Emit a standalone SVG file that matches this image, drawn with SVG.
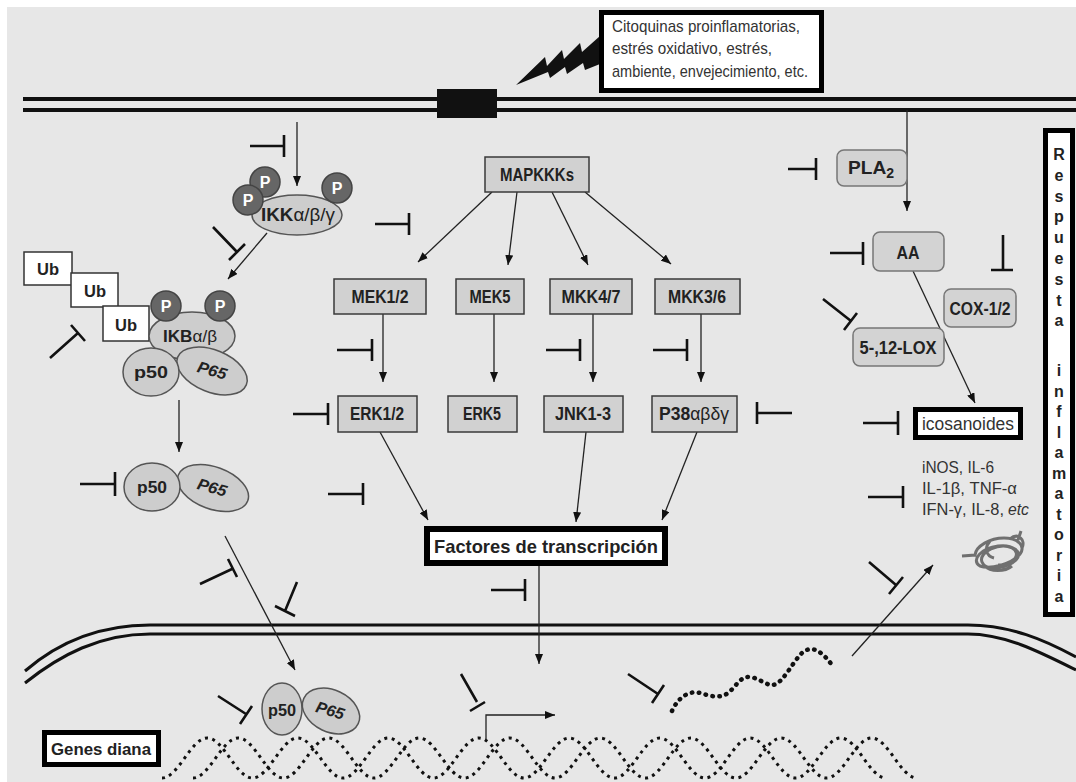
<svg xmlns="http://www.w3.org/2000/svg" width="1076" height="782" viewBox="0 0 1076 782">
<style>
  .bg{fill:#e7e7e7}
  .box{fill:#d1d1d1;stroke:#3a3a3a;stroke-width:1.5}
  .rbox{fill:#d3d3d3;stroke:#777;stroke-width:1.5}
  .thick{fill:#fff;stroke:#000}
  .ub{fill:#fff;stroke:#333;stroke-width:1.5}
  .prot{fill:#cdcdcd;stroke:#555;stroke-width:1.5}
  .phos{fill:#666;stroke:#444;stroke-width:1.5}
  .lbl{font-family:"Liberation Sans",Arial,sans-serif;font-weight:bold;fill:#222;text-anchor:middle}
  .reg{font-family:"Liberation Sans",Arial,sans-serif;fill:#333}
  .pt{font-family:"Liberation Sans",Arial,sans-serif;font-weight:bold;fill:#fff;font-size:16px;text-anchor:middle}
  .gr{font-weight:normal}
  .arr{fill:none;stroke:#222;stroke-width:1.3;marker-end:url(#ah)}
  .inh{fill:none;stroke:#111;stroke-width:2.6}
  .mem{fill:none;stroke:#111;stroke-width:4}
  .nuc{fill:none;stroke:#111;stroke-width:3}
  .dna{fill:none;stroke:#111;stroke-width:3;stroke-dasharray:3 4.5}
  .rna{fill:none;stroke:#111;stroke-width:4.5;stroke-linecap:round;stroke-dasharray:0.5 6.5}
  .resp{font-family:"Liberation Sans",Arial,sans-serif;font-weight:bold;font-size:16px;fill:#222;text-anchor:middle}
</style>
<defs>
  <marker id="ah" viewBox="0 0 10 8" refX="10" refY="4" markerWidth="10" markerHeight="8" markerUnits="userSpaceOnUse" orient="auto">
    <path d="M0,0 L10,4 L0,8 z" fill="#111"/>
  </marker>
</defs>

<rect width="1076" height="782" fill="#fff"/>
<rect class="bg" x="7" y="7" width="1069" height="775"/>

<!-- plasma membrane with receptor -->
<g id="membrane">
  <line class="mem" x1="23" y1="99" x2="1076" y2="99"/>
  <line class="mem" x1="23" y1="110" x2="1076" y2="110"/>
  <rect x="437" y="89" width="60" height="29" fill="#111"/>
</g>

<!-- nuclear envelope -->
<g id="nucleus">
  <path class="nuc" d="M25,671 C55,645 95,625 150,625 H968 C1010,625 1045,640 1076,657"/>
  <path class="nuc" d="M25,683 C60,655 100,634 150,634 H968 C1005,634 1040,652 1076,670"/>
</g>

<!-- stimulus -->
<g id="stimulus">
  <polygon points="516,85 545,57 547,66 562,50 564,59 580,43 582,52 600,36 600,64 585,70 583,63 567,74 565,67 550,78 548,72" fill="#111"/>
  <rect class="thick" x="601.5" y="12.5" width="220" height="78" stroke-width="5"/>
  <text class="reg" font-size="17"><tspan x="612" y="32" textLength="188" lengthAdjust="spacingAndGlyphs">Citoquinas proinflamatorias,</tspan><tspan x="612" y="54" textLength="160" lengthAdjust="spacingAndGlyphs">estrés oxidativo, estrés,</tspan><tspan x="612" y="77" textLength="196" lengthAdjust="spacingAndGlyphs">ambiente, envejecimiento, etc.</tspan></text>
</g>

<!-- connectors -->
<g id="connectors">
  <path class="arr" d="M297,122 V186"/>
  <path class="arr" d="M267,233 L228,279"/>
  <path class="arr" d="M179,400 V452"/>
  <path class="arr" d="M225,536 L295,670"/>
  <path class="arr" d="M492,192 L418,262"/>
  <path class="arr" d="M517,192 L508,265"/>
  <path class="arr" d="M552,192 L588,265"/>
  <path class="arr" d="M585,192 L671,264"/>
  <path class="arr" d="M383,314 V382"/>
  <path class="arr" d="M494,314 V382"/>
  <path class="arr" d="M593,314 V382"/>
  <path class="arr" d="M701,314 V382"/>
  <path class="arr" d="M380,432 L428,520"/>
  <path class="arr" d="M586,432 L576,522"/>
  <path class="arr" d="M697,432 L662,520"/>
  <path class="arr" d="M539,566 V664"/>
  <path class="arr" d="M907,110 V211"/>
  <path class="arr" d="M913,271 L975,403"/>
  <path class="arr" d="M852,656 L933,565"/>
  <path class="arr" d="M486,739 V715 H555"/>
  <!-- inhibition bars -->
  <path class="inh" d="M250,146 H284 M284,135 V157"/>
  <path class="inh" d="M375,224 H409 M409,213 V235"/>
  <path class="inh" d="M213,227 L237,252 M229,260 L245,244"/>
  <path class="inh" d="M50,358 L78,333 M71,325 L85,341"/>
  <path class="inh" d="M80,484 H115 M115,472 V496"/>
  <path class="inh" d="M328,494 H363 M363,483 V505"/>
  <path class="inh" d="M293,414 H328 M328,403 V425"/>
  <path class="inh" d="M337,350 H372 M372,339 V361"/>
  <path class="inh" d="M546,350 H580 M580,339 V361"/>
  <path class="inh" d="M653,350 H687 M687,339 V361"/>
  <path class="inh" d="M757,413 H792 M757,402 V424"/>
  <path class="inh" d="M788,169 H816 M816,158 V180"/>
  <path class="inh" d="M830,253 H863 M863,242 V265"/>
  <path class="inh" d="M1003,235 V270 M991,270 H1013"/>
  <path class="inh" d="M823,299 L851,321 M844,330 L857,313"/>
  <path class="inh" d="M863,423 H898 M898,411 V435"/>
  <path class="inh" d="M868,497 H903 M903,486 V508"/>
  <path class="inh" d="M869,562 L896,585 M889,594 L903,577"/>
  <path class="inh" d="M628,674 L658,694 M652,703 L664,685"/>
  <path class="inh" d="M491,590 H525 M525,579 V601"/>
  <path class="inh" d="M461,674 L477,702 M470,711 L485,702"/>
  <path class="inh" d="M218,696 L246,714 M240,724 L252,706"/>
  <path class="inh" d="M200,584 L232,569 M228,559 L237,577"/>
  <path class="inh" d="M297,582 L285,611 M275,606 L295,616"/>
</g>

<!-- IKK complex -->
<g id="ikk">
  <ellipse class="prot" cx="297" cy="215" rx="45" ry="20"/>
  <circle class="phos" cx="265" cy="182" r="15"/>
  <circle class="phos" cx="248" cy="200" r="15"/>
  <circle class="phos" cx="337" cy="188" r="15"/>
  <text class="pt" x="265" y="188">P</text>
  <text class="pt" x="248" y="206">P</text>
  <text class="pt" x="337" y="194">P</text>
  <text class="lbl" x="298" y="221" font-size="18" textLength="74" lengthAdjust="spacingAndGlyphs">IKK<tspan class="gr">α/β/γ</tspan></text>
</g>

<!-- ubiquitinated IkB / NF-kB complex -->
<g id="ikb-complex">
  <rect class="ub" x="24" y="252" width="48" height="33"/>
  <rect class="ub" x="71" y="273" width="47" height="34"/>
  <rect class="ub" x="103" y="306" width="46" height="35"/>
  <text class="lbl" x="48" y="275" font-size="17" textLength="22" lengthAdjust="spacingAndGlyphs">Ub</text>
  <text class="lbl" x="95" y="297" font-size="17" textLength="22" lengthAdjust="spacingAndGlyphs">Ub</text>
  <text class="lbl" x="126" y="331" font-size="17" textLength="22" lengthAdjust="spacingAndGlyphs">Ub</text>
  <ellipse class="prot" cx="192" cy="336" rx="43" ry="24"/>
  <circle class="phos" cx="166" cy="306" r="15"/>
  <circle class="phos" cx="220" cy="306" r="15"/>
  <text class="pt" x="166" y="312">P</text>
  <text class="pt" x="220" y="312">P</text>
  <text class="lbl" x="190" y="342" font-size="17" textLength="54" lengthAdjust="spacingAndGlyphs">IKB<tspan class="gr">α/β</tspan></text>
  <ellipse class="prot" cx="212" cy="371" rx="37" ry="21" transform="rotate(22 212 371)"/>
  <ellipse class="prot" cx="151" cy="372" rx="28" ry="24"/>
  <text class="lbl" x="151" y="378" font-size="17" textLength="34" lengthAdjust="spacingAndGlyphs">p50</text>
  <text class="lbl" x="212" y="376" font-size="16" font-style="italic" textLength="30" lengthAdjust="spacingAndGlyphs" transform="rotate(16 212 371)">P65</text>
</g>

<!-- free NF-kB in cytoplasm -->
<g id="nfkb-cyto">
  <ellipse class="prot" cx="213" cy="488" rx="37" ry="21" transform="rotate(20 213 488)"/>
  <ellipse class="prot" cx="152" cy="487" rx="28" ry="24"/>
  <text class="lbl" x="152" y="493" font-size="17" textLength="30" lengthAdjust="spacingAndGlyphs">p50</text>
  <text class="lbl" x="212" y="493" font-size="16" font-style="italic" textLength="30" lengthAdjust="spacingAndGlyphs" transform="rotate(16 212 488)">P65</text>
</g>

<!-- MAPK cascade -->
<g id="mapkkks"><rect class="box" x="485" y="157" width="104" height="35"/><text class="lbl" x="537" y="181" font-size="19" textLength="74" lengthAdjust="spacingAndGlyphs">MAPKKKs</text></g>
<g id="mek12"><rect class="box" x="334" y="279" width="92" height="35"/><text class="lbl" x="380" y="303" font-size="19" textLength="57" lengthAdjust="spacingAndGlyphs">MEK1/2</text></g>
<g id="mek5"><rect class="box" x="456" y="279" width="68" height="35"/><text class="lbl" x="490" y="303" font-size="19" textLength="41" lengthAdjust="spacingAndGlyphs">MEK5</text></g>
<g id="mkk47"><rect class="box" x="550" y="279" width="82" height="35"/><text class="lbl" x="591" y="303" font-size="19" textLength="59" lengthAdjust="spacingAndGlyphs">MKK4/7</text></g>
<g id="mkk36"><rect class="box" x="655" y="279" width="85" height="35"/><text class="lbl" x="697" y="303" font-size="19" textLength="58" lengthAdjust="spacingAndGlyphs">MKK3/6</text></g>
<g id="erk12"><rect class="box" x="338" y="396" width="79" height="36"/><text class="lbl" x="377" y="420" font-size="19" textLength="54" lengthAdjust="spacingAndGlyphs">ERK1/2</text></g>
<g id="erk5"><rect class="box" x="448" y="396" width="69" height="36"/><text class="lbl" x="482" y="420" font-size="19" textLength="38" lengthAdjust="spacingAndGlyphs">ERK5</text></g>
<g id="jnk"><rect class="box" x="544" y="396" width="79" height="36"/><text class="lbl" x="583" y="420" font-size="19" textLength="56" lengthAdjust="spacingAndGlyphs">JNK1-3</text></g>
<g id="p38"><rect class="box" x="652" y="396" width="85" height="36"/><text class="lbl" x="694" y="420" font-size="19" textLength="70" lengthAdjust="spacingAndGlyphs">P38<tspan class="gr">αβδγ</tspan></text></g>

<!-- transcription factors -->
<g id="factores">
  <rect class="thick" x="427" y="529" width="238" height="34" stroke-width="6"/>
  <text class="lbl" x="546" y="553" font-size="19" fill="#111" textLength="224" lengthAdjust="spacingAndGlyphs">Factores de transcripción</text>
</g>

<!-- arachidonic acid branch -->
<g id="pla2"><rect class="rbox" x="837" y="150" width="70" height="36" rx="7"/><text class="lbl" x="871" y="174" font-size="19" textLength="46" lengthAdjust="spacingAndGlyphs">PLA<tspan font-size="14" dy="4">2</tspan></text></g>
<g id="aa"><rect class="rbox" x="873" y="232" width="71" height="39" rx="7"/><text class="lbl" x="908" y="259" font-size="19" textLength="23" lengthAdjust="spacingAndGlyphs">AA</text></g>
<g id="cox"><rect class="rbox" x="944" y="289" width="72" height="38" rx="7"/><text class="lbl" x="980" y="315" font-size="19" textLength="61" lengthAdjust="spacingAndGlyphs">COX-1/2</text></g>
<g id="lox"><rect class="rbox" x="853" y="328" width="91" height="38" rx="7"/><text class="lbl" x="898" y="354" font-size="19" textLength="77" lengthAdjust="spacingAndGlyphs">5-,12-LOX</text></g>
<g id="icosanoides">
  <rect class="thick" x="915.5" y="409.5" width="105" height="28" stroke-width="5"/>
  <text class="reg" x="968" y="430" font-size="18" text-anchor="middle" fill="#111" textLength="92" lengthAdjust="spacingAndGlyphs">icosanoides</text>
</g>

<!-- cytokines and protein product -->
<g id="citoquinas">
  <text class="reg" x="922" y="473" font-size="17" textLength="72" lengthAdjust="spacingAndGlyphs">iNOS, IL-6</text>
  <text class="reg" x="922" y="494" font-size="17" textLength="95" lengthAdjust="spacingAndGlyphs">IL-1β, TNF-α</text>
  <text class="reg" x="922" y="515" font-size="17" textLength="82" lengthAdjust="spacingAndGlyphs">IFN-γ, IL-8,</text>
  <text class="reg" x="1008" y="515" font-size="17" font-style="italic" textLength="21" lengthAdjust="spacingAndGlyphs">etc</text>
  <path d="M962,556 L975,555 C976,546 990,538 1004,538 C1018,538 1026,546 1020,554 C1012,564 990,570 980,566 C970,560 982,548 998,546 C1012,544 1024,552 1016,560 C1008,568 986,572 982,562 C978,552 1000,542 1012,548 C1022,553 1014,566 998,565 M1010,539 C1018,532 1026,540 1022,548 M1018,540 L1021,531 M985,566 C990,572 1005,572 1012,566 M990,541 C984,548 986,556 994,558" fill="none" stroke="#707070" stroke-width="3"/>
</g>

<!-- side label -->
<g id="respuesta">
  <rect class="thick" x="1045.5" y="130.5" width="27" height="484" stroke-width="5"/>
  <text class="resp" x="1059" y="160">R</text>
  <text class="resp" x="1059" y="181">e</text>
  <text class="resp" x="1059" y="202">s</text>
  <text class="resp" x="1059" y="222">p</text>
  <text class="resp" x="1059" y="243">u</text>
  <text class="resp" x="1059" y="264">e</text>
  <text class="resp" x="1059" y="285">s</text>
  <text class="resp" x="1059" y="306">t</text>
  <text class="resp" x="1059" y="326">a</text>
  <text class="resp" x="1059" y="376">i</text>
  <text class="resp" x="1059" y="397">n</text>
  <text class="resp" x="1059" y="417">f</text>
  <text class="resp" x="1059" y="438">l</text>
  <text class="resp" x="1059" y="458">a</text>
  <text class="resp" x="1059" y="479">m</text>
  <text class="resp" x="1059" y="499">a</text>
  <text class="resp" x="1059" y="520">t</text>
  <text class="resp" x="1059" y="540">o</text>
  <text class="resp" x="1059" y="561">r</text>
  <text class="resp" x="1059" y="581">i</text>
  <text class="resp" x="1059" y="602">a</text>
</g>

<!-- nuclear NF-kB on DNA -->
<g id="nfkb-nuc">
  <ellipse class="prot" cx="331" cy="711" rx="30" ry="21" transform="rotate(25 331 711)"/>
  <ellipse class="prot" cx="282" cy="709" rx="20" ry="26"/>
  <text class="lbl" x="282" y="716" font-size="17" textLength="28" lengthAdjust="spacingAndGlyphs">p50</text>
  <text class="lbl" x="330" y="716" font-size="16" font-style="italic" textLength="29" lengthAdjust="spacingAndGlyphs" transform="rotate(16 330 711)">P65</text>
</g>

<!-- target genes: DNA double helix and mRNA -->
<g id="dna">
  <path class="dna" d="M162,778 c16.44,0 28.81,-40 45.25,-40 c16.44,0 28.81,40 45.25,40 c16.44,0 28.81,-40 45.25,-40 c16.44,0 28.81,40 45.25,40 c16.44,0 28.81,-40 45.25,-40 c16.44,0 28.81,40 45.25,40 c16.44,0 28.81,-40 45.25,-40 c16.44,0 28.81,40 45.25,40 c16.44,0 28.81,-40 45.25,-40 c16.44,0 28.81,40 45.25,40 c16.44,0 28.81,-40 45.25,-40 c16.44,0 28.81,40 45.25,40 c16.44,0 28.81,-40 45.25,-40 c16.44,0 28.81,40 45.25,40 c16.44,0 28.81,-40 45.25,-40 c16.44,0 28.81,40 45.25,40"/>
  <path class="dna" d="M193,778 c16.44,0 28.81,-40 45.25,-40 c16.44,0 28.81,40 45.25,40 c16.44,0 28.81,-40 45.25,-40 c16.44,0 28.81,40 45.25,40 c16.44,0 28.81,-40 45.25,-40 c16.44,0 28.81,40 45.25,40 c16.44,0 28.81,-40 45.25,-40 c16.44,0 28.81,40 45.25,40 c16.44,0 28.81,-40 45.25,-40 c16.44,0 28.81,40 45.25,40 c16.44,0 28.81,-40 45.25,-40 c16.44,0 28.81,40 45.25,40 c16.44,0 28.81,-40 45.25,-40 c16.44,0 28.81,40 45.25,40 c16.44,0 28.81,-40 45.25,-40 c16.44,0 28.81,40 45.25,40"/>
</g>
<g id="mrna">
  <path class="rna" d="M672,711 C678,697 690,690 700,693 S720,699 728,693 S740,676 750,677 S768,688 776,684 S792,664 800,655 S818,646 832,665"/>
</g>
<g id="genes-diana">
  <rect class="thick" x="44.5" y="732.5" width="114" height="32" stroke-width="5"/>
  <text class="lbl" x="101" y="755" font-size="17" fill="#111" textLength="100" lengthAdjust="spacingAndGlyphs">Genes diana</text>
</g>
</svg>
